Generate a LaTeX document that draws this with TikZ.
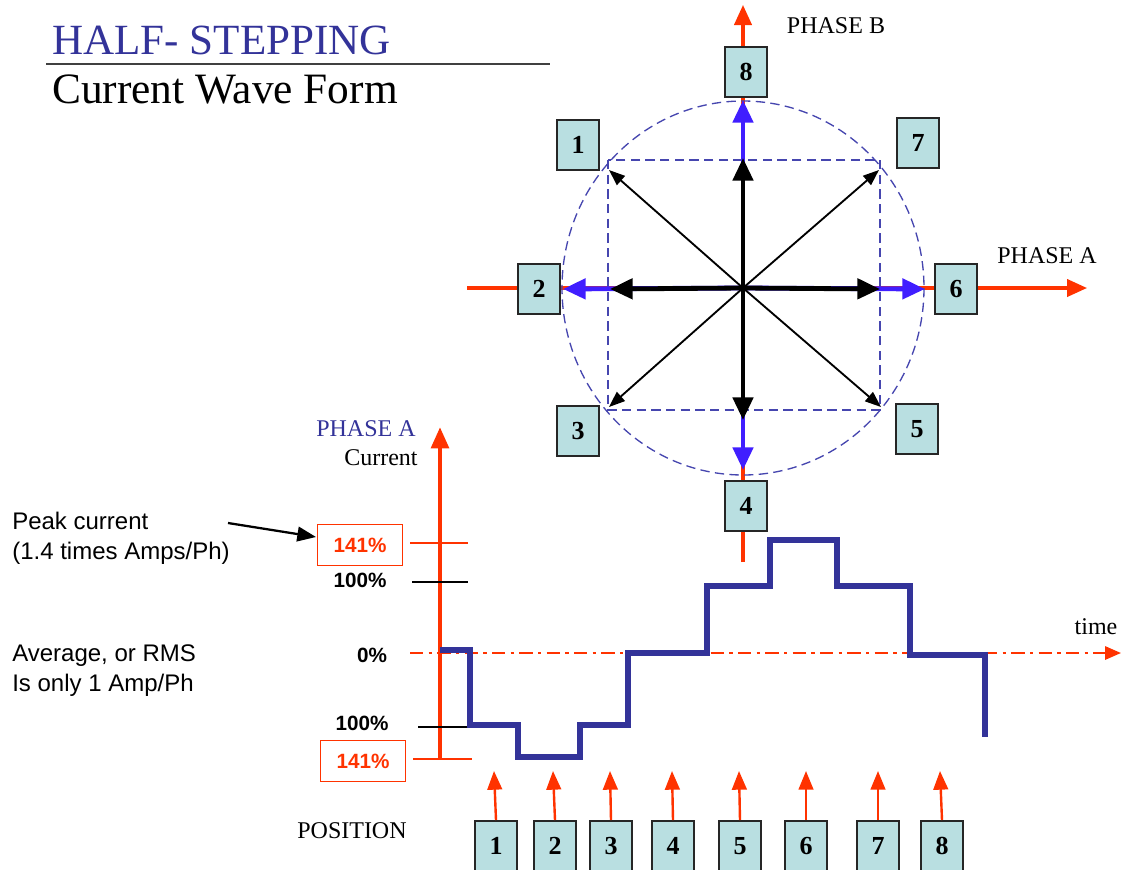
\documentclass[tikz,border=0pt]{standalone}
\usepackage{fontspec}
\setmainfont{Liberation Serif}
\newfontfamily\arialf{Liberation Sans}
\usetikzlibrary{arrows.meta}
\definecolor{tblue}{RGB}{51,51,153}
\definecolor{ored}{RGB}{255,51,0}
\definecolor{vblue}{RGB}{64,30,255}
\definecolor{boxfill}{RGB}{185,223,225}
\definecolor{dblue}{RGB}{70,70,175}
\begin{document}
\begin{tikzpicture}[x=0.75pt,y=-0.75pt,
  numbox/.style={draw=black!85, line width=1.5pt, fill=boxfill, minimum width=31.5pt, minimum height=37.5pt, inner sep=0pt, font=\fontsize{19.5}{20}\selectfont\bfseries},
  pctbox/.style={draw=ored, line width=1.2pt, minimum width=64pt, minimum height=31pt, inner sep=0pt, text=ored, font=\arialf\bfseries\fontsize{15.5}{16}\selectfont},
  pct/.style={font=\arialf\bfseries\fontsize{15.5}{16}\selectfont},
  serlab/.style={font=\fontsize{18}{20}\selectfont, inner sep=0pt},
  sanslab/.style={font=\arialf\fontsize{18}{22.5}\selectfont, align=left, inner sep=0pt},
  redaxis/.style={ored, line width=2.3pt, -{Triangle[length=15pt,width=13pt]}},
  guide/.style={dblue, line width=1pt, dash pattern=on 7pt off 4pt},
  bluevec/.style={vblue, line width=3.6pt, -{Triangle[length=17pt,width=15pt]}},
  blackvec/.style={black, line width=3.6pt, -{Triangle[length=17pt,width=15pt]}},
  diagvec/.style={black, line width=1.4pt, -{Triangle[length=12pt,width=9pt]}},
  posarrow/.style={ored, line width=1.8pt, -{Triangle[length=14pt,width=11pt]}},
  wave/.style={tblue, line width=4.2pt}
]
\useasboundingbox (0,0) rectangle (1122,869);

% ---------- Title ----------
\node[anchor=base west, inner sep=0pt, text=tblue, font=\fontsize{32.3}{36}\selectfont] (title) at (52,54) {HALF- STEPPING};
\node[anchor=base west, inner sep=0pt, font=\fontsize{32.5}{36}\selectfont] (subtitle) at (52,103) {Current Wave Form};
\coordinate (ruleL) at (46,64);
\coordinate (ruleR) at (550,64);
\draw[black!75, line width=1.5pt] (ruleL) -- (ruleR);

% ---------- Phasor diagram ----------
\coordinate (O) at (743,288);
\coordinate (axBbot) at (743,562);
\coordinate (axBtop) at (743,5);
\coordinate (axAleft) at (467,288);
\coordinate (axAright) at (1087,288);
\draw[redaxis] (axBbot) -- (axBtop);
\draw[redaxis] (axAleft) -- (axAright);

\draw[guide] (O) ellipse [x radius=181, y radius=187];
\draw[guide] (608,160) rectangle (880,410);

% tips
\coordinate (bU) at (743,100);
\coordinate (bD) at (743,470);
\coordinate (bL) at (563,289);
\coordinate (bR) at (925,289);
\coordinate (kU) at (743,158);
\coordinate (kD) at (743,420);
\coordinate (kL) at (610,289);
\coordinate (kR) at (880,289);
\coordinate (dNW) at (609,170);
\coordinate (dNE) at (879,170);
\coordinate (dSW) at (609,407);
\coordinate (dSE) at (881,407);

\draw[bluevec] (O) -- (bU);
\draw[bluevec] (O) -- (bD);
\draw[bluevec] (O) -- (bL);
\draw[bluevec] (O) -- (bR);
\draw[blackvec] (O) -- (kU);
\draw[blackvec] (O) -- (kD);
\draw[blackvec] (O) -- (kL);
\draw[blackvec] (O) -- (kR);
\draw[diagvec] (O) -- (dNW);
\draw[diagvec] (O) -- (dNE);
\draw[diagvec] (O) -- (dSW);
\draw[diagvec] (O) -- (dSE);

\node[numbox] (c8) at (746,72) {8};
\node[numbox] (c1) at (578,145) {1};
\node[numbox] (c7) at (918,143) {7};
\node[numbox] (c2) at (539,289) {2};
\node[numbox] (c6) at (956,289) {6};
\node[numbox] (c3) at (578,431) {3};
\node[numbox] (c5) at (917,429) {5};
\node[numbox] (c4) at (746,506) {4};

\node[serlab] (phB) at (836,26) {PHASE B};
\node[serlab] (phA) at (1047,256) {PHASE A};

% ---------- Wave form chart ----------
\node[serlab, text=tblue] (phA2) at (366,429) {PHASE A};
\node[serlab] (curr) at (381,458) {Current};

\coordinate (vaxBot) at (440,758);
\coordinate (vaxTop) at (440,427);
\draw[ored, line width=3.5pt, -{Triangle[length=16pt,width=13pt]}] (vaxBot) -- (vaxTop);

\coordinate (t141a) at (410,543); \coordinate (t141b) at (468,543);
\coordinate (t100a) at (412,582); \coordinate (t100b) at (468,582);
\coordinate (t0a) at (410,653);   \coordinate (t0b) at (1121,653);
\coordinate (tm100a) at (418,727); \coordinate (tm100b) at (470,727);
\coordinate (tm141a) at (413,759); \coordinate (tm141b) at (472,759);
\draw[ored, line width=1.1pt] (t141a) -- (t141b);
\draw[black, line width=1.1pt] (t100a) -- (t100b);
\draw[ored, line width=1.6pt, dash pattern=on 10pt off 4pt on 2.5pt off 4pt, -{Triangle[length=12pt,width=10pt]}] (t0a) -- (t0b);
\draw[black, line width=1.1pt] (tm100a) -- (tm100b);
\draw[ored, line width=1.1pt] (tm141a) -- (tm141b);

\node[pctbox] (p141a) at (360,545) {141\%};
\node[pct] (p100a) at (360,580) {100\%};
\node[pct] (p0) at (372,655) {0\%};
\node[pct] (p100b) at (362,723) {100\%};
\node[pctbox] (p141b) at (363,761) {141\%};

\node[sanslab, anchor=west] (peak) at (12,538) {Peak current\\(1.4 times Amps/Ph)};
\node[sanslab, anchor=west] (avg) at (12,671) {Average, or RMS\\Is only 1 Amp/Ph};
\coordinate (peakStart) at (228,523);
\coordinate (peakTip) at (316,537);
\draw[black, line width=1.7pt, -{Triangle[length=14pt,width=11pt]}] (peakStart) -- (peakTip);

\draw[wave] (440,650) -- (470,650) -- (470,725) -- (518,725) -- (518,757) -- (580,757) -- (580,725) -- (628,725) -- (628,653) -- (707,653) -- (707,586) -- (770,586) -- (770,540) -- (837,540) -- (837,586) -- (910,586) -- (910,655) -- (985,655) -- (985,737);

\node[serlab] (time) at (1096,627) {time};

% ---------- Positions ----------
\node[serlab] (posl) at (352,831) {POSITION};
\foreach \n/\x/\ax in {1/496/494, 2/555/553, 3/611/610, 4/673/672, 5/740/739, 6/806/806, 7/878/878, 8/942/940}{
  \node[numbox] (pos\n) at (\x,846) {\n};
  \coordinate (tip\n) at (\ax,771);
  \draw[posarrow] (pos\n.north) -- (tip\n);
}
\end{tikzpicture}
\end{document}
